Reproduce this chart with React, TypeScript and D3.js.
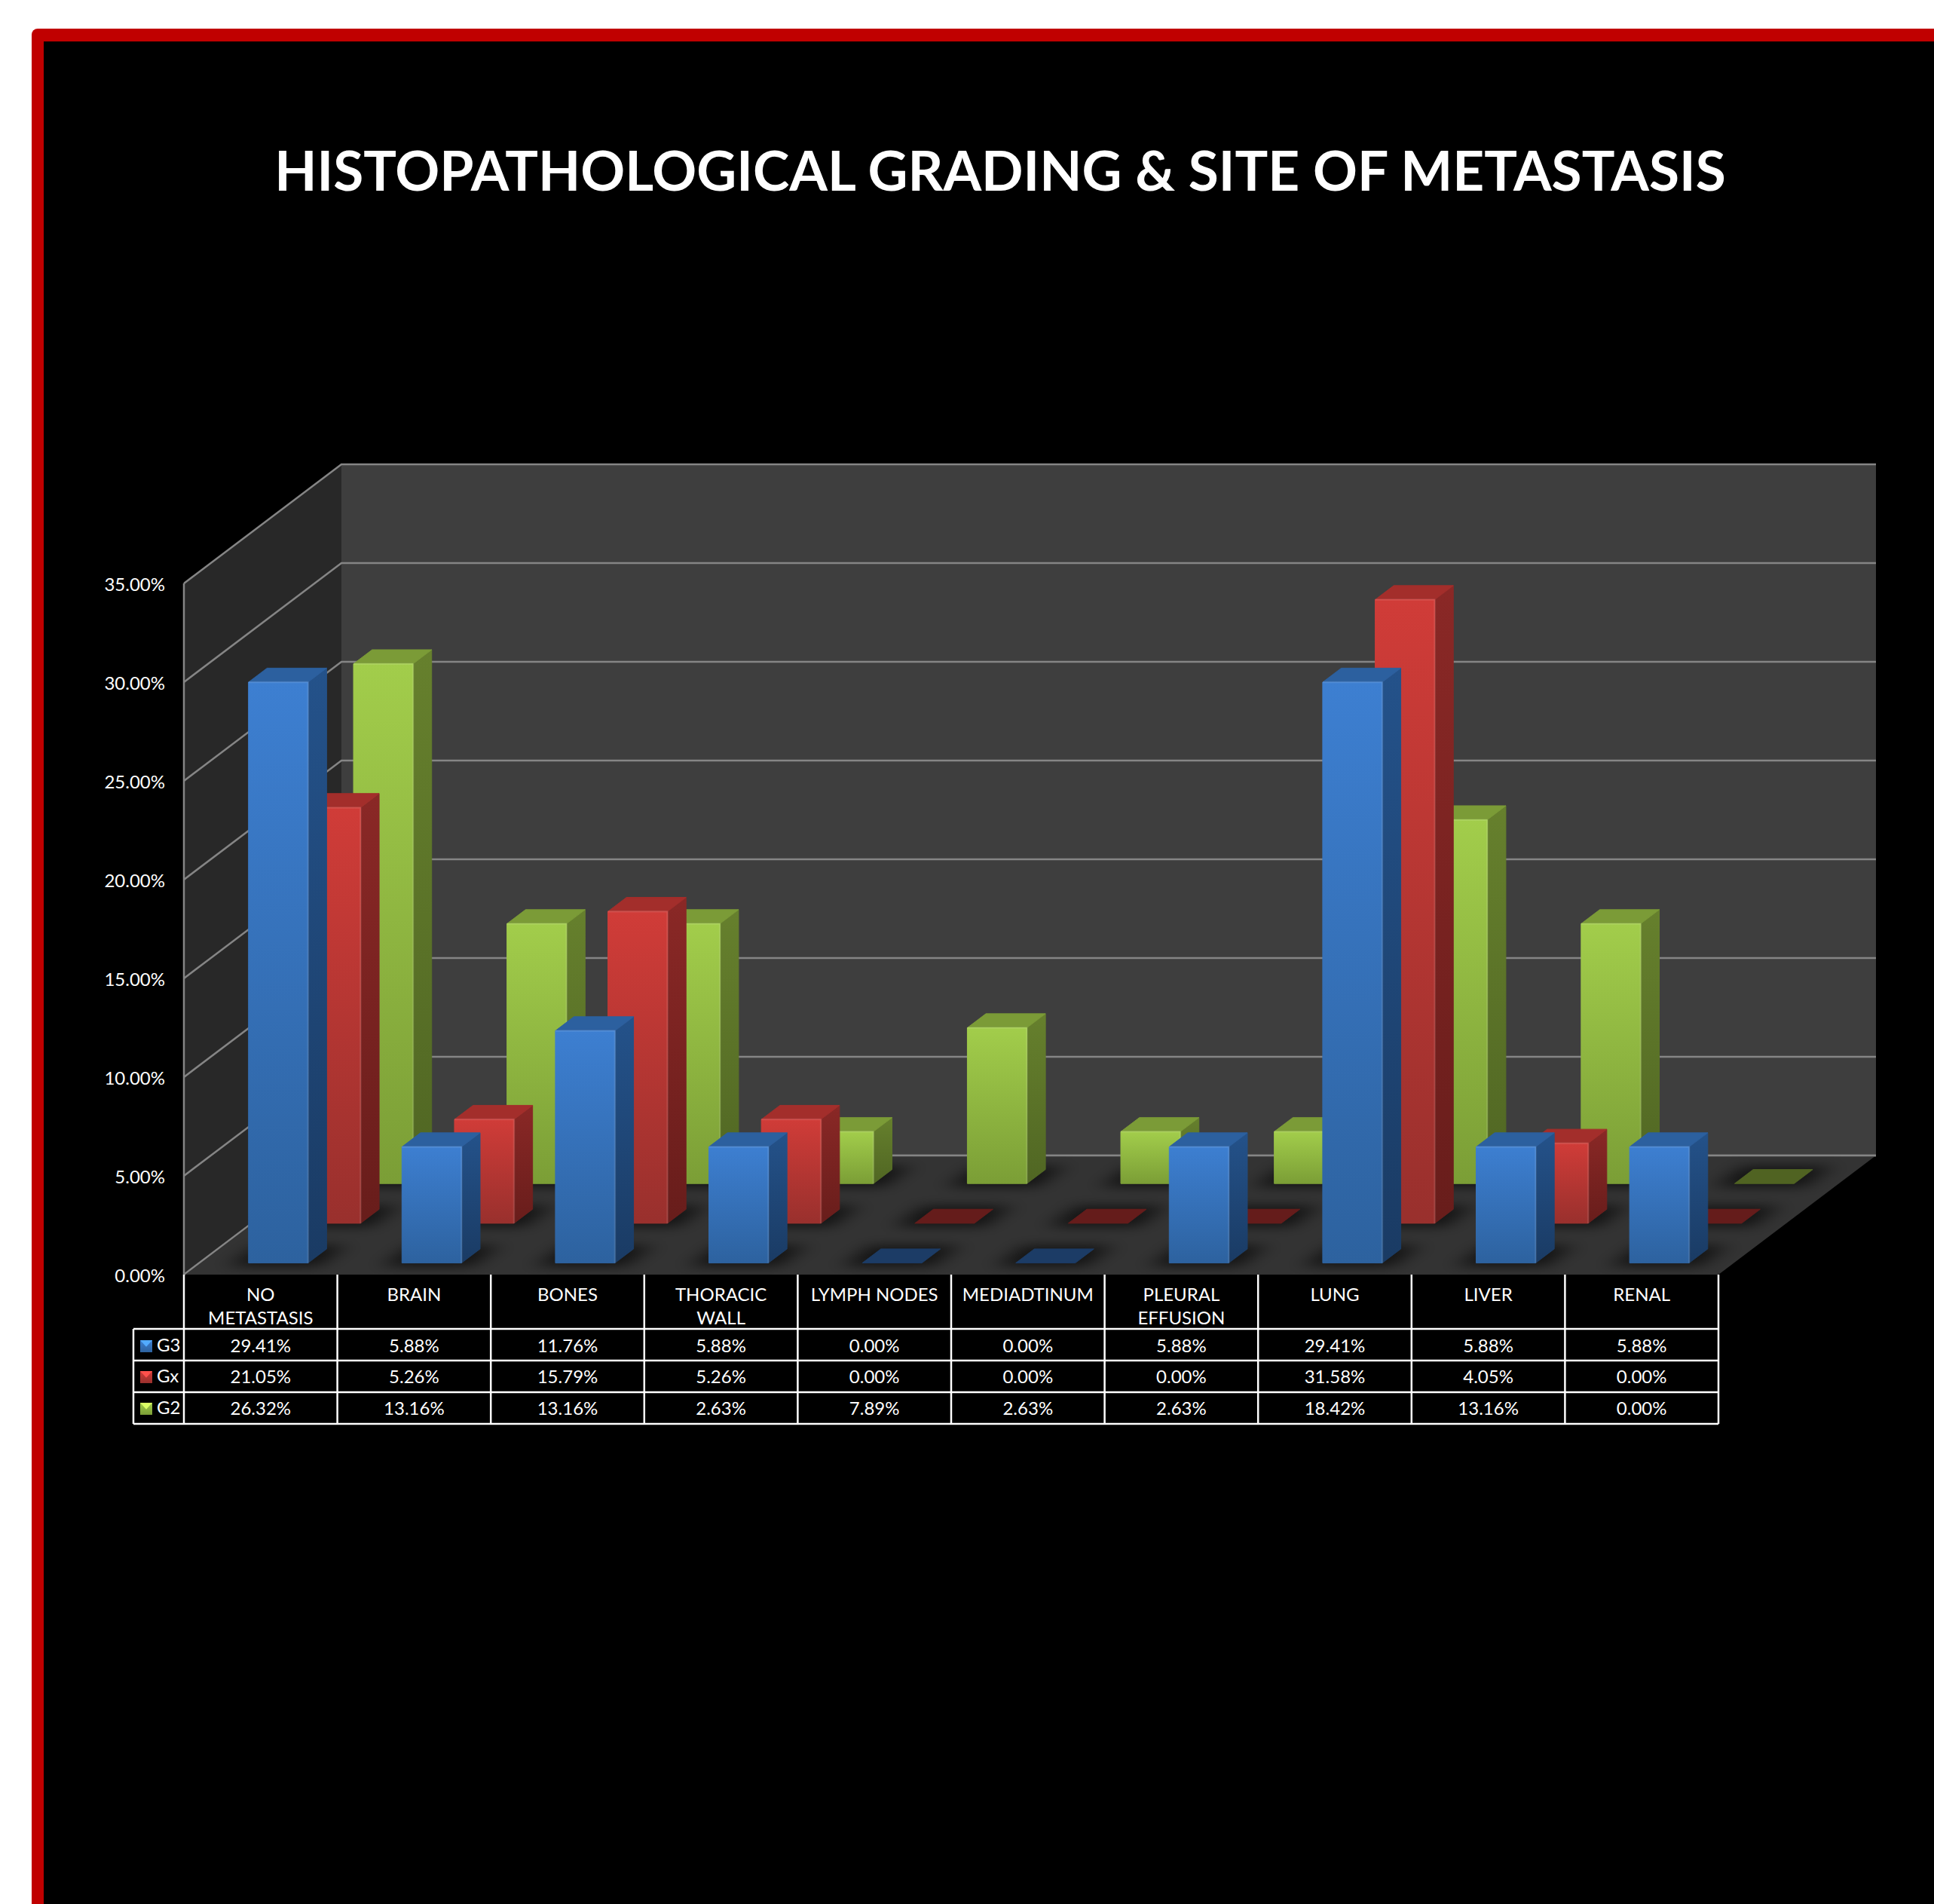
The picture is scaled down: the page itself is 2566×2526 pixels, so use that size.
import React from "react";
import * as d3 from "d3";

// Chart content
const titleText = "HISTOPATHOLOGICAL GRADING & SITE OF METASTASIS";
const categories = ["NO METASTASIS", "BRAIN", "BONES", "THORACIC WALL", "LYMPH NODES", "MEDIADTINUM", "PLEURAL EFFUSION", "LUNG", "LIVER", "RENAL"];
const categoryLines = [["NO", "METASTASIS"], ["BRAIN"], ["BONES"], ["THORACIC", "WALL"], ["LYMPH NODES"], ["MEDIADTINUM"], ["PLEURAL", "EFFUSION"], ["LUNG"], ["LIVER"], ["RENAL"]];
const seriesNames = ["G3", "Gx", "G2"];
const g3Values = [29.41, 5.88, 11.76, 5.88, 0, 0, 5.88, 29.41, 5.88, 5.88];
const gxValues = [21.05, 5.26, 15.79, 5.26, 0, 0, 0, 31.58, 4.05, 0];
const g2Values = [26.32, 13.16, 13.16, 2.63, 7.89, 2.63, 2.63, 18.42, 13.16, 0];
const seriesValues = [g3Values, gxValues, g2Values];

// Face colours per series: front top/bottom, side top/bottom, lid, flat
const palette = [
  { id: "g3", frontA: "#3d7fd1", frontB: "#2d629f", sideA: "#24528a", sideB: "#1a3b64", lid: "#2c609f", flat: "#1c3c66" },
  { id: "gx", frontA: "#d03c38", frontB: "#99302d", sideA: "#8a2826", sideB: "#681d1b", lid: "#a32e2b", flat: "#651c1b" },
  { id: "g2", frontA: "#a2cd4b", frontB: "#7b9e36", sideA: "#66802d", sideB: "#506623", lid: "#7b9b37", flat: "#506322" },
];

// Oblique projection of the plot box
const frontLeft = 244;
const frontRight = 2280;
const floorY = 1691;
const topY = 774;
const depthDX = 209;
const depthDY = -158;
const barWidth = 79;
const barDepth = 0.118;
const barNudge = 3;

const xScale = d3.scaleBand<string>().domain(categories).range([frontLeft, frontRight]);
const yScale = d3.scaleLinear().domain([0, 35]).range([floorY, topY]);
const zScale = d3.scaleBand<string>().domain(seriesNames).range([-0.01, 0.99]);
const ticks = yScale.ticks(7);
const pct = (v: number) => d3.format(".2f")(v) + "%";

type P = [number, number];
const project = (x: number, v: number, t: number): P => [x + t * depthDX, yScale(v) + t * depthDY];
const poly = d3.line<P>().curve(d3.curveLinearClosed);

const tableLeft = 177;
const rowLines = [1763, 1805, 1847, 1889];
const rowBaselines = [1794, 1835, 1877];
const FONT = "Lato, Carlito, sans-serif";
const GRID = "#858585";

function barBox(cat: string, s: number) {
  const x0 = xScale(cat)! + xScale.bandwidth() / 2 - barWidth / 2 + barNudge;
  const t0 = zScale(seriesNames[s])! + zScale.bandwidth() / 2 - barDepth / 2;
  return { x0, x1: x0 + barWidth, t0, t1: t0 + barDepth };
}

function Bar({ cat, s, value }: { cat: string; s: number; value: number }) {
  const c = palette[s];
  const { x0, x1, t0, t1 } = barBox(cat, s);
  const lid: P[] = [project(x0, value, t0), project(x1, value, t0), project(x1, value, t1), project(x0, value, t1)];
  if (value === 0) return <path d={poly(lid)!} fill={c.flat} stroke={c.flat} strokeWidth={1} strokeLinejoin="round" />;
  const front: P[] = [project(x0, 0, t0), project(x1, 0, t0), project(x1, value, t0), project(x0, value, t0)];
  const side: P[] = [project(x1, 0, t0), project(x1, 0, t1), project(x1, value, t1), project(x1, value, t0)];
  const faces = [
    { d: poly(side)!, fill: `url(#${c.id}-side)` },
    { d: poly(lid)!, fill: c.lid },
    { d: poly(front)!, fill: `url(#${c.id}-front)` },
  ];
  return (
    <g strokeLinejoin="round" strokeWidth={1}>
      {faces.map((f, i) => (
        <path key={i} d={f.d} fill={f.fill} stroke={f.fill} />
      ))}
      {/* Faint bevel along the front face */}
      <path d={`M${front[3]}L${front[2]}L${front[1]}`} fill="none" stroke="#ffffff" strokeOpacity={0.1} strokeWidth={2.5} />
    </g>
  );
}

// Footprint of a bar, widened a little, that gets blurred into a contact shadow
function Shadow({ cat, s }: { cat: string; s: number }) {
  const { x0, x1, t0, t1 } = barBox(cat, s);
  const pad = 20;
  const pts: P[] = [project(x0 - pad, 0, t0 - 0.03), project(x1 + pad, 0, t0 - 0.03), project(x1 + pad, 0, t1 + 0.03), project(x0 - pad, 0, t1 + 0.03)];
  return <path d={poly(pts)!} fill="#000000" fillOpacity={0.6} />;
}

function LegendKey({ s, y }: { s: number; y: number }) {
  const c = palette[s];
  const x = 186;
  const w = 16;
  const h = 16;
  return (
    <g>
      <rect x={x} y={y} width={w} height={h} fill={`url(#${c.id}-front)`} />
      <path d={`M${x},${y}H${x + w}L${x + w / 2},${y + h * 0.55}Z`} fill={c.frontA} style={{ filter: "brightness(1.35)" }} />
    </g>
  );
}

export default function App() {
  const back0 = project(frontLeft, 0, 1);
  const backTop = project(frontLeft, 35, 1);
  const backRight0 = project(frontRight, 0, 1);
  const backRightTop = project(frontRight, 35, 1);
  const leftWall: P[] = [[frontLeft, floorY], back0, backTop, [frontLeft, topY]];
  const backWall: P[] = [back0, backRight0, backRightTop, backTop];
  const floor: P[] = [[frontLeft, floorY], [frontRight, floorY], backRight0, back0];
  const colEdges = categories.map((c) => xScale(c)!).concat(frontRight);

  return (
    <svg width={2566} height={2526} viewBox="0 0 2566 2526" style={{ position: "absolute", left: 0, top: 0, display: "block" }} fontFamily={FONT}>
      <defs>
        {palette.map((c) => (
          <React.Fragment key={c.id}>
            <linearGradient id={`${c.id}-front`} x1="0" y1="0" x2="0" y2="1">
              <stop offset="0" stopColor={c.frontA} />
              <stop offset="1" stopColor={c.frontB} />
            </linearGradient>
            <linearGradient id={`${c.id}-side`} x1="0" y1="0" x2="0" y2="1">
              <stop offset="0" stopColor={c.sideA} />
              <stop offset="1" stopColor={c.sideB} />
            </linearGradient>
          </React.Fragment>
        ))}
        <filter id="floor-blur" filterUnits="userSpaceOnUse" x={200} y={1450} width={2366} height={320}>
          <feGaussianBlur stdDeviation="14 7" />
        </filter>
        <clipPath id="floor-clip">
          <path d={poly(floor)!} />
        </clipPath>
      </defs>

      {/* Slide frame */}
      <rect x={42} y={38} width={2600} height={2600} rx={8} fill="#c00000" />
      <rect x={58} y={55} width={2600} height={2600} fill="#000000" />

      <text x={1327} y={253} textAnchor="middle" fill="#ffffff" fontSize={73} fontWeight={700}>
        {titleText}
      </text>

      {/* Plot box */}
      <path d={poly(leftWall)!} fill="#282828" />
      <path d={poly(backWall)!} fill="#3e3e3e" />
      {ticks.map((v) => {
        const a = project(frontLeft, v, 0);
        const b = project(frontLeft, v, 1);
        const c = project(frontRight, v, 1);
        return <path key={v} d={`M${a}L${b}L${c}`} fill="none" stroke={GRID} strokeWidth={2.5} />;
      })}
      <path d={poly(floor)!} fill="#333333" />
      <line x1={back0[0]} y1={back0[1]} x2={backRight0[0]} y2={backRight0[1]} stroke={GRID} strokeWidth={2.5} />
      <line x1={frontLeft} y1={topY} x2={frontLeft} y2={floorY} stroke={GRID} strokeWidth={2.5} />
      <line x1={frontLeft} y1={floorY} x2={back0[0]} y2={back0[1]} stroke={GRID} strokeWidth={2} />

      {/* Soft contact shadows on the floor */}
      <g clipPath="url(#floor-clip)">
        <g filter="url(#floor-blur)">
          {[2, 1, 0].map((s) => categories.map((cat) => <Shadow key={`${s}-${cat}`} cat={cat} s={s} />))}
        </g>
      </g>

      {/* Bars, furthest series first */}
      {[2, 1, 0].map((s) =>
        categories.map((cat, i) => <Bar key={`${s}-${cat}`} cat={cat} s={s} value={seriesValues[s][i]} />)
      )}

      {/* Value axis labels */}
      {ticks.map((v) => (
        <text key={v} x={219} y={yScale(v) + 10} textAnchor="end" fill="#ffffff" fontSize={24}>
          {pct(v)}
        </text>
      ))}

      {/* Data table */}
      <g stroke="#ffffff" strokeWidth={2.5}>
        {colEdges.map((x) => (
          <line key={x} x1={x} y1={floorY} x2={x} y2={rowLines[3]} />
        ))}
        <line x1={tableLeft} y1={rowLines[0]} x2={tableLeft} y2={rowLines[3]} />
        {rowLines.map((y) => (
          <line key={y} x1={tableLeft} y1={y} x2={frontRight} y2={y} />
        ))}
      </g>
      <g fill="#ffffff" fontSize={24} textAnchor="middle">
        {categories.map((cat, i) => {
          const cx = xScale(cat)! + xScale.bandwidth() / 2;
          return (
            <g key={cat}>
              {categoryLines[i].map((line, j) => (
                <text key={j} x={cx} y={1726 + j * 31}>
                  {line}
                </text>
              ))}
              {seriesValues.map((vals, s) => (
                <text key={s} x={cx} y={rowBaselines[s]}>
                  {pct(vals[i])}
                </text>
              ))}
            </g>
          );
        })}
      </g>
      {seriesNames.map((name, s) => (
        <g key={name}>
          <LegendKey s={s} y={rowBaselines[s] - 16} />
          <text x={208} y={rowBaselines[s] - 1} fill="#ffffff" fontSize={24}>
            {name}
          </text>
        </g>
      ))}
    </svg>
  );
}
